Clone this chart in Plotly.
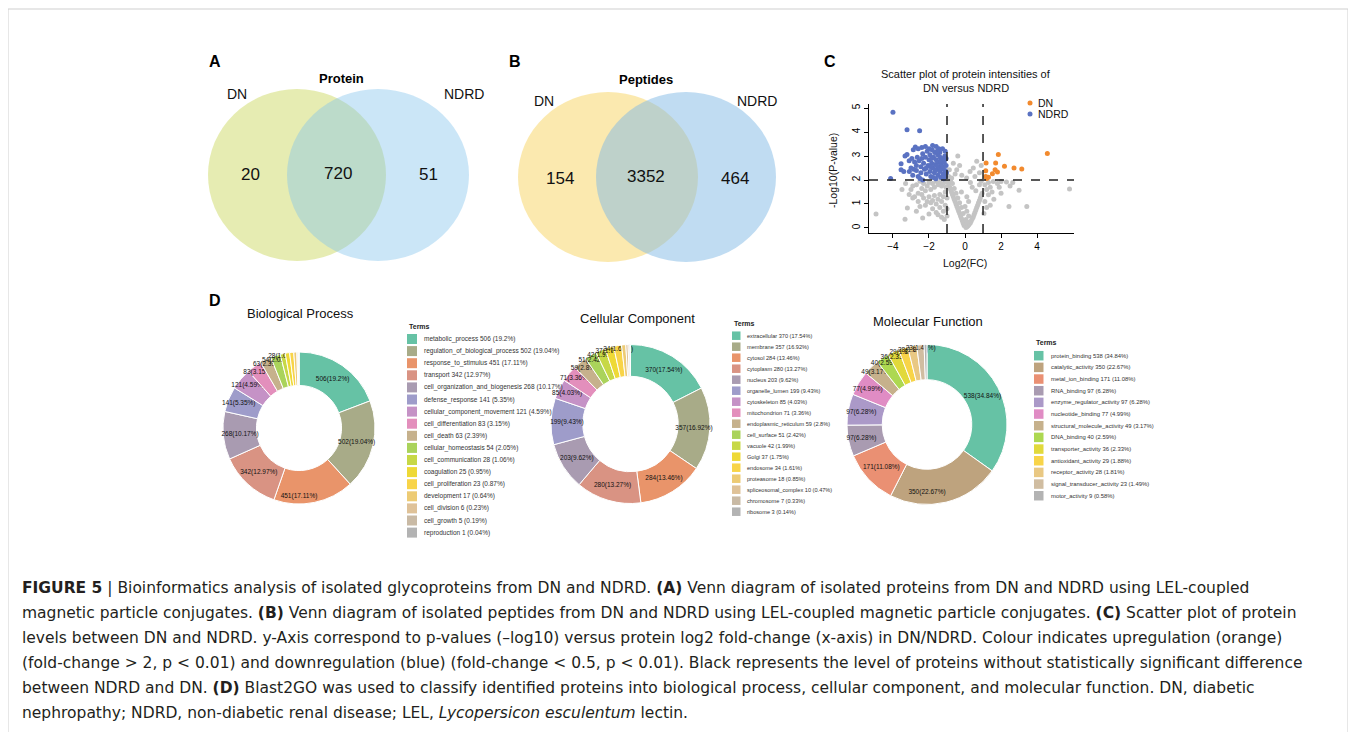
import plotly.graph_objects as go

# page body has an 8px margin: figure is sized to the remaining area, coordinates shifted accordingly
OFF = 8
W, H = 1356 - OFF, 732 - OFF
def px(x): return (x - OFF) / W
def py(y): return 1 - (y - OFF) / H

# ---------------- data ----------------
venn_protein = [20, 720, 51]
venn_peptides = [154, 3352, 464]

up_fc = [4.57, 1.85, 1.17, 1.70, 2.19, 2.72, 3.15, 1.67, 1.15, 1.52, 1.15, 1.30, 1.20, 1.80]
up_p = [3.11, 3.06, 2.71, 2.71, 2.57, 2.50, 2.46, 2.43, 2.39, 2.26, 2.15, 2.11, 2.06, 2.33]

down_fc = [-4.00, -3.22, -2.52, -4.13, -3.55, -3.55, -3.33, -3.22, -3.09, -2.50, -2.87, -2.76, -2.60, -2.40,
           -2.20, -1.80, -1.60, -1.45, -2.95, -2.80, -2.70, -2.65, -2.55, -2.45, -2.40, -2.35, -2.30, -2.25,
           -2.20, -2.15, -2.10, -2.05, -2.00, -1.95, -1.95, -1.90, -1.85, -1.82, -1.80, -1.75, -1.70, -1.68,
           -1.65, -1.62, -1.60, -1.55, -1.52, -1.50, -1.48, -1.45, -1.40, -1.40, -1.38, -1.35, -1.32, -1.30,
           -1.28, -1.25, -1.22, -1.20, -1.18, -1.15, -1.12, -1.10, -1.08, -1.05, -1.05, -1.03, -3.00, -2.90,
           -3.10, -2.85, -2.60, -2.35, -1.90, -1.75, -2.00, -1.58, -1.35, -1.65, -2.15, -2.45, -1.85, -1.55,
           -1.10, -1.20, -3.40, -2.70]
down_p = [4.83, 4.10, 4.05, 2.06, 2.68, 2.43, 3.00, 3.06, 2.36, 2.06, 3.26, 3.38, 3.30, 3.36,
          3.40, 3.44, 3.40, 3.30, 2.90, 2.75, 2.60, 2.95, 2.80, 2.55, 2.90, 3.10, 2.70, 2.45,
          2.95, 2.25, 3.20, 2.60, 2.85, 3.05, 2.35, 2.15, 2.70, 3.25, 2.50, 2.95, 2.30, 3.15,
          2.65, 2.05, 2.85, 2.45, 3.05, 2.20, 2.75, 2.55, 3.15, 2.35, 2.95, 2.10, 2.65, 2.45,
          2.85, 3.30, 2.25, 2.55, 2.05, 2.75, 3.00, 2.40, 2.15, 2.60, 2.90, 2.30, 2.50, 2.20,
          2.80, 2.45, 2.15, 2.00, 2.55, 2.10, 3.30, 2.60, 2.80, 2.40, 2.50, 2.30, 2.90, 3.20,
          3.20, 2.90, 2.35, 2.40]

ns_fc = [0.05, 0.10, 0.15, -0.05, 0.20, 0.00, 0.25, -0.10, 0.30, 0.12, -0.15, 0.35, 0.05, -0.20, 0.40,
         -0.25, 0.45, 0.20, -0.30, 0.50, -0.10, -0.35, 0.55, 0.10, -0.40, 0.60, -0.20, -0.45, 0.65, 0.00,
         -0.50, 0.70, -0.30, -0.55, 0.75, 0.20, -0.60, 0.80, -0.40, -0.65, 0.85, 0.10, -0.70, 0.90, -0.50,
         -0.75, 0.95, -0.20, -0.80, 0.60, -0.60, -0.85, 0.40, -0.90, -0.70, 0.80, -0.95, 0.30, -0.80, 0.90,
         -0.40, -0.65, -0.87, -0.46, -0.18, -0.74, 0.09, 0.28, 0.46, 0.65, 0.80, -0.55, -0.30, 0.55, -0.90, 0.90,
         -1.10, -1.20, -1.30, -1.40, -1.50, -1.60, -1.70, -1.80, -1.90, -2.00, -2.10, -2.20, -2.30, -2.40,
         -2.50, -2.60, -2.70, -2.80, -2.90, -3.00, -3.20, -3.50, -3.30, -2.50, -2.35, -2.00, -1.80, -1.10,
         -1.20, -1.30, -1.40, -1.50, -1.60, -1.70, -1.80, -1.90, -2.00, -2.10, -2.20, -2.30, -2.40, -2.60,
         -2.70, -1.10, -1.20, -1.40, -1.50, -1.60, -1.30, -1.00, -1.00, -1.05, -4.94, -3.33, -2.90, -3.10,
         -1.15, -1.00,
         1.30, 1.57, 2.00, 2.30, 2.65, 1.10, 1.20, 1.40, 1.80, 1.50, 3.00, 2.44, 3.43, 5.80, 1.30, 1.60,
         1.10, 1.20, 1.05, 1.40, 2.00, 1.90, 2.50]
ns_p = [0.02, 0.05, 0.08, 0.10, 0.12, 0.15, 0.18, 0.20, 0.22, 0.25, 0.30, 0.30, 0.35, 0.40, 0.38,
        0.50, 0.45, 0.50, 0.60, 0.55, 0.60, 0.70, 0.65, 0.70, 0.80, 0.75, 0.85, 0.90, 0.85, 0.90,
        1.00, 0.95, 1.05, 1.10, 1.05, 1.10, 1.20, 1.15, 1.25, 1.30, 1.25, 1.30, 1.40, 1.35, 1.45,
        1.50, 1.45, 1.50, 1.60, 1.55, 1.65, 1.70, 1.70, 1.80, 1.85, 1.80, 1.90, 1.90, 1.95, 1.95,
        3.00, 2.70, 2.43, 2.43, 2.20, 2.08, 2.08, 2.36, 2.50, 2.78, 2.30, 2.25, 2.60, 2.15, 2.15, 2.60,
        1.95, 1.85, 1.75, 1.90, 1.80, 1.95, 1.70, 1.85, 1.60, 1.90, 1.75, 1.55, 1.85, 1.65,
        1.95, 1.45, 1.80, 1.30, 1.25, 1.60, 0.83, 1.60, 1.85, 0.90, 0.42, 0.58, 0.80, 1.50,
        1.30, 1.10, 1.40, 1.20, 1.00, 1.35, 1.15, 1.05, 1.30, 1.10, 0.95, 1.25, 1.40, 1.10,
        0.70, 0.95, 0.70, 0.85, 0.55, 0.65, 0.45, 0.80, 1.25, 1.70, 0.58, 0.36, 1.75, 1.40,
        0.35, 0.50,
        1.90, 1.94, 1.94, 1.92, 1.90, 1.80, 1.60, 1.70, 1.85, 1.50, 1.57, 0.90, 0.90, 1.63, 1.39, 1.20,
        1.10, 0.85, 0.60, 0.95, 1.45, 1.70, 1.75]

x_ticks = [-4, -2, 0, 2, 4]
y_ticks = [0, 1, 2, 3, 4, 5]

bp_terms = ["metabolic_process", "regulation_of_biological_process", "response_to_stimulus", "transport",
            "cell_organization_and_biogenesis", "defense_response", "cellular_component_movement",
            "cell_differentiation", "cell_death", "cellular_homeostasis", "cell_communication", "coagulation",
            "cell_proliferation", "development", "cell_division", "cell_growth", "reproduction"]
bp_counts = [506, 502, 451, 342, 268, 141, 121, 83, 63, 54, 28, 25, 23, 17, 6, 5, 1]
bp_pct = [19.2, 19.04, 17.11, 12.97, 10.17, 5.35, 4.59, 3.15, 2.39, 2.05, 1.06, 0.95, 0.87, 0.64, 0.23, 0.19, 0.04]

cc_terms = ["extracellular", "membrane", "cytosol", "cytoplasm", "nucleus", "organelle_lumen", "cytoskeleton",
            "mitochondrion", "endoplasmic_reticulum", "cell_surface", "vacuole", "Golgi", "endosome",
            "proteasome", "spliceosomal_complex", "chromosome", "ribosome"]
cc_counts = [370, 357, 284, 280, 203, 199, 85, 71, 59, 51, 42, 37, 34, 18, 10, 7, 3]
cc_pct = [17.54, 16.92, 13.46, 13.27, 9.62, 9.43, 4.03, 3.36, 2.8, 2.42, 1.99, 1.75, 1.61, 0.85, 0.47, 0.33, 0.14]

mf_terms = ["protein_binding", "catalytic_activity", "metal_ion_binding", "RNA_binding", "enzyme_regulator_activity",
            "nucleotide_binding", "structural_molecule_activity", "DNA_binding", "transporter_activity",
            "antioxidant_activity", "receptor_activity", "signal_transducer_activity", "motor_activity"]
mf_counts = [538, 350, 171, 97, 97, 77, 49, 40, 36, 29, 28, 23, 9]
mf_pct = [34.84, 22.67, 11.08, 6.28, 6.28, 4.99, 3.17, 2.59, 2.33, 1.88, 1.81, 1.49, 0.58]

caption_lines = [
    "<b>FIGURE 5</b> | Bioinformatics analysis of isolated glycoproteins from DN and NDRD. <b>(A)</b> Venn diagram of isolated proteins from DN and NDRD using LEL-coupled",
    "magnetic particle conjugates. <b>(B)</b> Venn diagram of isolated peptides from DN and NDRD using LEL-coupled magnetic particle conjugates. <b>(C)</b> Scatter plot of protein",
    "levels between DN and NDRD. y-Axis correspond to p-values (\u2013log10) versus protein log2 fold-change (x-axis) in DN/NDRD. Colour indicates upregulation (orange)",
    "(fold-change > 2, p < 0.01) and downregulation (blue) (fold-change < 0.5, p < 0.01). Black represents the level of proteins without statistically significant difference",
    "between NDRD and DN. <b>(D)</b> Blast2GO was used to classify identified proteins into biological process, cellular component, and molecular function. DN, diabetic",
    "nephropathy; NDRD, non-diabetic renal disease; LEL, <i>Lycopersicon esculentum</i> lectin.",
]

# ---------------- style helpers ----------------
FONT = "Arial, Liberation Sans, Helvetica, sans-serif"
CAPFONT = "DejaVu Sans, Arial, sans-serif"
SET2 = ['#66c2a5', '#fc8d62', '#8da0cb', '#e78ac3', '#a6d854', '#ffd92f', '#e5c494', '#b3b3b3']
MIN_LABEL_PCT = 1.0

def hex2rgb(h):
    h = h.lstrip('#')
    return [int(h[i:i + 2], 16) for i in (0, 2, 4)]

def ramp(n):
    base = [hex2rgb(c) for c in SET2]
    out = []
    for i in range(n):
        t = i / (n - 1) * (len(base) - 1)
        k = min(int(t), len(base) - 2)
        f = t - k
        c = [round(base[k][j] + f * (base[k + 1][j] - base[k][j])) for j in range(3)]
        out.append('rgb(%d,%d,%d)' % tuple(c))
    return out

fig = go.Figure()
shapes = []
annos = []

def text(x, y, s, size, bold=False, color='#111', xanchor='center', yanchor='middle', angle=0, family=FONT):
    annos.append(dict(x=px(x), y=py(y), xref='paper', yref='paper', text=('<b>%s</b>' % s) if bold else s,
                      showarrow=False, xanchor=xanchor, yanchor=yanchor, textangle=angle,
                      font=dict(size=size, color=color, family=family)))

# frame
shapes.append(dict(type='rect', xref='paper', yref='paper', x0=px(8), x1=px(1348), y0=py(745), y1=py(9),
                   line=dict(color='#cfcfcf', width=1), fillcolor='rgba(0,0,0,0)'))

# ---------------- Venn diagrams ----------------
def circle(cx, cy, rx, ry, color):
    shapes.append(dict(type='circle', xref='paper', yref='paper', x0=px(cx - rx), x1=px(cx + rx),
                       y0=py(cy + ry), y1=py(cy - ry), line=dict(width=0), fillcolor=color))

circle(297, 175, 89, 86, 'rgba(200,213,85,0.45)')
circle(378, 175, 91, 86, 'rgba(130,195,235,0.42)')
text(215, 62, "A", 16, bold=True, color='black')
text(341, 78, "Protein", 13, bold=True, color='black')
text(237, 94, "DN", 14)
text(464, 94, "NDRD", 14)
text(250, 174, str(venn_protein[0]), 17)
text(338, 173, str(venn_protein[1]), 17)
text(428, 174, str(venn_protein[2]), 17)

circle(608, 177, 90, 85, 'rgba(248,215,110,0.55)')
circle(686, 177, 90, 85, 'rgba(130,185,230,0.5)')
text(515, 62, "B", 16, bold=True, color='black')
text(646, 80, "Peptides", 13, bold=True, color='black')
text(544, 101, "DN", 14)
text(757, 101, "NDRD", 14)
text(560, 178, str(venn_peptides[0]), 17)
text(646, 177, str(venn_peptides[1]), 17)
text(735, 178, str(venn_peptides[2]), 17)

# ---------------- Volcano ----------------
fig.add_trace(go.Scatter(x=ns_fc, y=ns_p, mode='markers', marker=dict(color='#c4c4c4', size=5),
                         showlegend=False, hoverinfo='skip', xaxis='x', yaxis='y'))
fig.add_trace(go.Scatter(x=down_fc, y=down_p, mode='markers', marker=dict(color='#5a72c2', size=5),
                         showlegend=False, hoverinfo='skip', xaxis='x', yaxis='y'))
fig.add_trace(go.Scatter(x=up_fc, y=up_p, mode='markers', marker=dict(color='#f28a2e', size=5),
                         showlegend=False, hoverinfo='skip', xaxis='x', yaxis='y'))
for xv in (-1, 1):
    shapes.append(dict(type='line', xref='x', yref='paper', x0=xv, x1=xv, y0=py(233), y1=py(104),
                       line=dict(color='#222', width=1.5, dash='dash')))
shapes.append(dict(type='line', xref='paper', yref='y', x0=px(869), x1=px(1074), y0=2, y1=2,
                   line=dict(color='#222', width=1.5, dash='dash')))

text(830, 62, "C", 16, bold=True, color='black')
text(966, 74, "Scatter plot of protein intensities of", 11)
text(966, 88, "DN versus NDRD", 11)
text(965, 263, "Log2(FC)", 10.5)
text(833, 170, "-Log10(P-value)", 10.5, angle=-90)
shapes.append(dict(type='circle', xref='paper', yref='paper', x0=px(1027.5), x1=px(1032.5), y0=py(105.5), y1=py(100.5),
                   line=dict(width=0), fillcolor='#f28a2e'))
shapes.append(dict(type='circle', xref='paper', yref='paper', x0=px(1027.5), x1=px(1032.5), y0=py(116.5), y1=py(111.5),
                   line=dict(width=0), fillcolor='#5a72c2'))
text(1036, 103, "DN", 10.5, xanchor='left')
text(1036, 114, "NDRD", 10.5, xanchor='left')

# ---------------- Donuts ----------------
def donut(counts, pct, terms, cx, cy, r, hole, title, tx, ty, lx, ly0, ldy, sq, fsize, terms_y):
    cols = ramp(len(counts))
    labels = [("%d(%g%%)" % (c, p)) if p >= MIN_LABEL_PCT else "" for c, p in zip(counts, pct)]
    fig.add_trace(go.Pie(values=counts, labels=terms, text=labels, textinfo='text', sort=False,
                         direction='clockwise', rotation=0, hole=hole,
                         marker=dict(colors=cols, line=dict(color='white', width=1)),
                         textposition='inside', insidetextorientation='horizontal',
                         textfont=dict(size=6.5, color='#111', family=FONT),
                         domain=dict(x=[px(cx - r), px(cx + r)], y=[py(cy + r), py(cy - r)]),
                         showlegend=False, hoverinfo='skip'))
    text(tx, ty, title, 13)
    text(lx, terms_y, "Terms", 7, bold=True, color='#222', xanchor='left')
    for i, (t, c, p) in enumerate(zip(terms, counts, pct)):
        yc = ly0 + i * ldy
        shapes.append(dict(type='rect', xref='paper', yref='paper', x0=px(lx), x1=px(lx + sq),
                           y0=py(yc + sq / 2), y1=py(yc - sq / 2), line=dict(width=0), fillcolor=cols[i]))
        text(lx + sq + 5, yc, "%s %d (%g%%)" % (t, c, p), fsize, color='#333', xanchor='left')

donut(bp_counts, bp_pct, bp_terms, 299, 428, 76, 0.56, "Biological Process", 300, 313,
      407, 339, 12.1, 10, 6.5, 326)
donut(cc_counts, cc_pct, cc_terms, 630.5, 424, 79.5, 0.6, "Cellular Component", 637, 318,
      732, 335.7, 11.0, 8.5, 5.6, 323)
donut(mf_counts, mf_pct, mf_terms, 927, 424.5, 80, 0.56, "Molecular Function", 928, 322,
      1034, 355.7, 11.67, 9.5, 5.9, 342)
text(215, 300, "D", 16, bold=True, color='black')

# ---------------- caption ----------------
for i, line in enumerate(caption_lines):
    text(20, 588 + i * 25, line, 15.5, color='#231f20', xanchor='left', family=CAPFONT)

fig.update_layout(
    width=W, height=H, margin=dict(l=0, r=0, t=0, b=0), paper_bgcolor='white', plot_bgcolor='white',
    font=dict(family=FONT),
    uniformtext=dict(minsize=6.5, mode='show'),
    xaxis=dict(domain=[px(869), px(1074)], range=[-5.33, 6.05], anchor='y', tickvals=x_ticks,
               ticks='outside', ticklen=4, tickcolor='black', showline=True, linecolor='black', linewidth=1,
               showgrid=False, zeroline=False, tickfont=dict(size=10, color='black')),
    yaxis=dict(domain=[py(233), py(104)], range=[-0.21, 5.17], anchor='x', tickvals=y_ticks,
               ticks='outside', ticklen=4, tickcolor='black', showline=True, linecolor='black', linewidth=1,
               showgrid=False, zeroline=False, tickangle=-90, tickfont=dict(size=10, color='black')),
    shapes=shapes, annotations=annos,
)
fig.write_html("out.html")
